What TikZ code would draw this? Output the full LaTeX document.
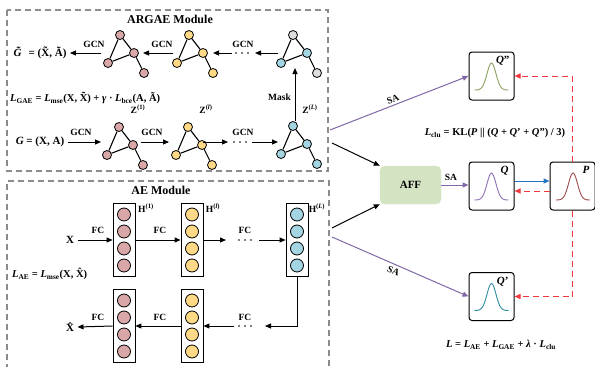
\documentclass[tikz,border=0pt]{standalone}
\usepackage{fontspec}
\setmainfont{Liberation Serif}
\usetikzlibrary{arrows.meta}
\definecolor{pk}{HTML}{D9A7A8}
\definecolor{yl}{HTML}{FFD985}
\definecolor{bl}{HTML}{A3D5E2}
\definecolor{gy}{HTML}{DDDDDD}
\definecolor{affg}{HTML}{D4E3C1}
\definecolor{pu}{HTML}{8068A8}
\definecolor{bu}{HTML}{2473C0}
\definecolor{rd}{HTML}{F0373C}
\definecolor{cq}{HTML}{8C6FB4}
\definecolor{cp}{HTML}{A04848}
\definecolor{cqq}{HTML}{8AA060}
\definecolor{cqp}{HTML}{2A8C9C}
\newcommand{\gph}[7]{%
  \node[gn,fill=#4] (#1t) at (#2,#3) {};
  \node[gn,fill=#5] (#1r) at ({#2+14},{#3+18}) {};
  \node[gn,fill=#6] (#1l) at ({#2-12},{#3+28}) {};
  \node[gn,fill=#7] (#1b) at ({#2+24},{#3+38}) {};
  \draw[ge] (#1t)--(#1r) (#1t)--(#1l) (#1l)--(#1r) (#1r)--(#1b);}
\newcommand{\colm}[4]{%
  \node[col] (#1) at (#2,#3) {};
  \node[cn,fill=#4] (#1a) at (#2,{#3-25.5}) {};
  \node[cn,fill=#4] (#1b) at (#2,{#3-8.5}) {};
  \node[cn,fill=#4] (#1c) at (#2,{#3+8.5}) {};
  \node[cn,fill=#4] (#1d) at (#2,{#3+25.5}) {};}
\newcommand{\bell}[3]{\draw[#3,line width=0.9pt] plot[domain=-17:17,samples=60,smooth] ({#1+\x},{#2-27*exp(-(\x*\x)/40)});}
\newcommand{\dotrow}[3]{%
  \node[dt] (#1a) at ({#2-6},#3) {};
  \node[dt] (#1b) at (#2,#3) {};
  \node[dt] (#1c) at ({#2+6},#3) {};}
\newcommand{\Ls}[1]{\textit{L}\textsubscript{#1}}
\begin{document}
\begin{tikzpicture}[x=1pt,y=-1pt,font=\bfseries\fontsize{9.5}{10}\selectfont,
  gn/.style={circle,draw,line width=0.8pt,minimum size=9pt,inner sep=0pt},
  ge/.style={line width=1.1pt},
  dt/.style={circle,fill,minimum size=1.8pt,inner sep=0pt},
  arr/.style={-{Triangle[length=6pt,width=5pt]},line width=1pt},
  col/.style={draw,line width=0.8pt,minimum width=22pt,minimum height=73pt,inner sep=0pt},
  cn/.style={circle,draw,line width=0.8pt,minimum size=13pt,inner sep=0pt},
  dbox/.style={draw=black!45,dash pattern=on 6pt off 4pt,line width=1.2pt},
  qbox/.style={draw,rounded corners=3pt,line width=1pt,minimum width=45pt,minimum height=48pt,inner sep=0pt},
  lbl/.style={inner sep=1pt},
  fml/.style={inner sep=1pt,font=\bfseries\fontsize{10.5}{12}\selectfont},
  big/.style={font=\bfseries\fontsize{11}{12}\selectfont},
  ttl/.style={font=\bfseries\fontsize{12}{13}\selectfont},
  parr/.style={draw=pu,-{Triangle[length=6pt,width=5pt]},line width=1pt},
  rarr/.style={draw=rd,-{Triangle[length=6pt,width=5pt]},line width=1pt,dash pattern=on 6pt off 4pt}]
\useasboundingbox (0,0) rectangle (595,367);
% ===== ARGAE module =====
\draw[dbox] (7,10) rectangle (328,171);
\node[ttl] (t1) at (170,19) {ARGAE Module};
\gph{gA}{120}{35}{pk}{pk}{pk}{pk}
\gph{gB}{189}{35}{yl}{yl}{yl}{yl}
\gph{gC}{293}{35}{gy}{bl}{bl}{gy}
\gph{gD}{119}{127}{pk}{pk}{pk}{pk}
\gph{gE}{188}{127}{yl}{yl}{yl}{yl}
\gph{gF}{293}{126}{bl}{bl}{bl}{bl}
\node[big] (Gt) at (40,53) {\textit{\~{G}} = (\~{X}, \~{A})};
\node[big] (G) at (40,142) {\textit{G} = (X, A)};
\coordinate (a1) at (101,53);
\coordinate (a2) at (173,53);
\coordinate (a2e) at (143,53);
\coordinate (a3) at (278,53);
\coordinate (a3e) at (255,53);
\coordinate (a4) at (232,53);
\coordinate (a4e) at (213,53);
\draw[arr] (a1) -- (Gt.east);
\draw[arr] (a2) -- (a2e);
\draw[arr] (a3) -- (a3e);
\draw[arr] (a4) -- (a4e);
\dotrow{d1}{242}{53}
\node[lbl] (l1) at (94,44) {GCN};
\node[lbl] (l2) at (162,44) {GCN};
\node[lbl] (l3) at (243,44) {GCN};
\coordinate (b1e) at (101,142);
\coordinate (b2) at (141,142);
\coordinate (b2e) at (169,142);
\coordinate (b3) at (203,142);
\coordinate (b3e) at (228,142);
\coordinate (b4) at (252,142);
\coordinate (b4e) at (278,142);
\draw[arr] (G.east) -- (b1e);
\draw[arr] (b2) -- (b2e);
\draw[arr] (b3) -- (b3e);
\draw[arr] (b4) -- (b4e);
\dotrow{d2}{240}{142}
\node[lbl] (l4) at (81,132) {GCN};
\node[lbl] (l5) at (152,132) {GCN};
\node[lbl] (l6) at (243,132) {GCN};
\coordinate (mk) at (295,67);
\draw[arr] ([xshift=2pt]gFt.north) -- (mk |- 0,68);
\node[lbl,anchor=east] (mask) at (292,97) {Mask};
\node[lbl] (z1) at (138,109) {Z\textsuperscript{(1)}};
\node[lbl] (z2) at (206,109) {Z\textsuperscript{(\textit{l})}};
\node[lbl] (z3) at (310,109) {Z\textsuperscript{(\textit{L})}};
\node[fml,anchor=west] (fg) at (9,98) {\Ls{GAE} = \Ls{mse}(X, \~{X}) + \textit{γ} · \Ls{bce}(A, \~{A})};
% ===== AE module =====
\draw[dbox] (7,370) -- (7,181) -- (329,181) -- (329,370);
\node[ttl] (t2) at (161,190) {AE Module};
\colm{c1}{124}{240}{pk}
\colm{c2}{192}{240}{yl}
\colm{c3}{297}{240}{bl}
\colm{e1}{124}{326}{pk}
\colm{e2}{192}{326}{yl}
\node[big] (X) at (70,240) {X};
\node[big] (Xh) at (70,327) {\^{X}};
\node[lbl] (h1) at (146,208) {H\textsuperscript{(1)}};
\node[lbl] (h2) at (213,208) {H\textsuperscript{(\textit{l})}};
\node[lbl] (h3) at (317,208) {H\textsuperscript{(\textit{L})}};
\draw[arr] (X.east) -- (c1.west);
\draw[arr] (c1.east) -- (c2.west);
\coordinate (f3e) at (226,240);
\coordinate (f4) at (259,240);
\draw[arr] (c2.east) -- (f3e);
\draw[arr] (f4) -- (c3.west);
\dotrow{d3}{245}{240}
\node[lbl] (f1) at (98,230) {FC};
\node[lbl] (f2) at (160,230) {FC};
\node[lbl] (f3) at (245,230) {FC};
\coordinate (g1e) at (265,326);
\coordinate (g2) at (234,326);
\draw[arr] (c3.south) |- (g1e);
\draw[arr] (g2) -- (e2.east);
\draw[arr] (e2.west) -- (e1.east);
\draw[arr] (e1.west) -- (Xh.east);
\dotrow{d4}{245}{326}
\node[lbl] (f4l) at (245,317) {FC};
\node[lbl] (f5) at (160,317) {FC};
\node[lbl] (f6) at (98,317) {FC};
\node[fml,anchor=west] (fa) at (11,274) {\Ls{AE} = \Ls{mse}(X, \^{X})};
% ===== right side =====
\node[draw=affg,fill=affg,rounded corners=5pt,minimum width=61pt,minimum height=38pt,big] (aff) at (410.5,185) {AFF};
\node[qbox] (Q) at (491.5,186) {};
\node[qbox] (P) at (572.5,186) {};
\node[qbox] (Qpp) at (491.5,76) {};
\node[qbox] (Qp) at (491.5,296.5) {};
\bell{491.5}{200}{cq}
\bell{573}{200}{cp}
\bell{491.5}{90}{cqq}
\bell{491.5}{310.5}{cqp}
\node[big,anchor=north east] (lq) at (512,163) {\textit{Q}};
\node[big,anchor=north east] (lp) at (593,163) {\textit{P}};
\node[big,anchor=north east] (lqq) at (513,53) {\textit{Q}''};
\node[big,anchor=north east] (lqp) at (512,274) {\textit{Q}'};
\coordinate (s1) at (330,130);
\coordinate (s2) at (332,237);
\coordinate (k1) at (332,143);
\coordinate (k2) at (332,228);
\draw[parr] (s1) -- node[lbl,sloped,above=1pt,pos=0.47]{SA} (Qpp.west);
\draw[parr] (s2) -- node[lbl,sloped,below=2pt,pos=0.47]{SA} (Qp.west);
\draw[arr] (k1) -- (aff.north west);
\draw[arr] (k2) -- (aff.south west);
\draw[parr] (aff.east |- 0,185) -- (Q.west |- 0,185);
\node[lbl] (sa3) at (451,177) {SA};
\draw[-{Triangle[length=6pt,width=5pt]},draw=bu,line width=1pt] ([yshift=5pt]Q.east) -- ([yshift=5pt]P.west);
\draw[rarr] ([yshift=-5pt]P.west) -- ([yshift=-5pt]Q.east);
\draw[rarr] (P.north) |- (Qpp.east);
\draw[rarr] (P.south) |- (Qp.east);
\node[fml] (fclu) at (495,133) {\Ls{clu} = KL(\textit{P} || (\textit{Q} + \textit{Q}' + \textit{Q}'') / 3)};
\node[fml] (fl) at (501,345) {\textit{L} = \Ls{AE} + \Ls{GAE} + \textit{λ} · \Ls{clu}};
\end{tikzpicture}
\end{document}
